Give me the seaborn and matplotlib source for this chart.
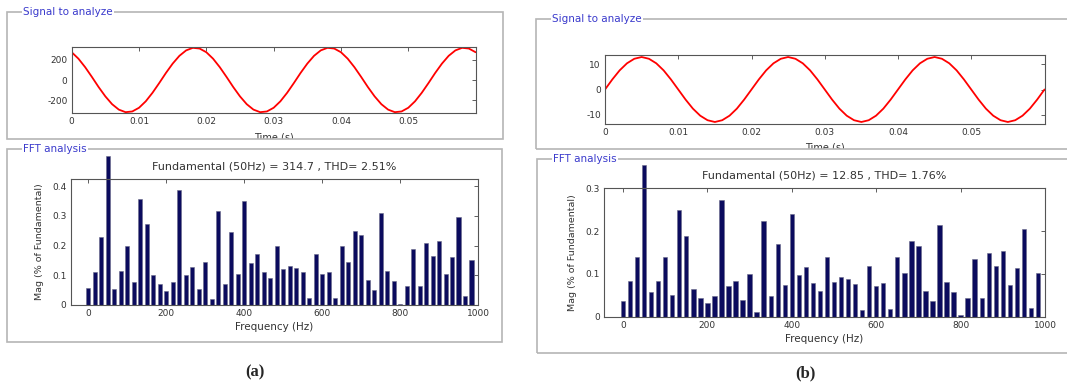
import matplotlib
matplotlib.use('Agg')
import matplotlib.pyplot as plt
from matplotlib.patches import Rectangle
import numpy as np
import seaborn as sns

# signal samples, 1 ms apart over the 0.06 s window
time_s = np.arange(61) * 0.001
signal_a = [271, 208, 125, 30, -69, -160, -236, -289, -314, -307,
            -271, -208, -125, -30, 69, 160, 236, 289, 314, 307,
            271, 208, 125, 30, -69, -160, -236, -289, -314, -307,
            -271, -208, -125, -30, 69, 160, 236, 289, 314, 307,
            271, 208, 125, 30, -69, -160, -236, -289, -314, -307,
            -271, -208, -125, -30, 69, 160, 236, 289, 314, 307, 271]
signal_b = [0, 4.0, 7.6, 10.4, 12.2, 12.9, 12.2, 10.4, 7.6, 4.0,
            0, -4.0, -7.6, -10.4, -12.2, -12.9, -12.2, -10.4, -7.6, -4.0,
            0, 4.0, 7.6, 10.4, 12.2, 12.9, 12.2, 10.4, 7.6, 4.0,
            0, -4.0, -7.6, -10.4, -12.2, -12.9, -12.2, -10.4, -7.6, -4.0,
            0, 4.0, 7.6, 10.4, 12.2, 12.9, 12.2, 10.4, 7.6, 4.0,
            0, -4.0, -7.6, -10.4, -12.2, -12.9, -12.2, -10.4, -7.6, -4.0, 0]

# FFT bins (1/0.06 s resolution) and magnitudes in % of fundamental
freq_hz = np.arange(60) * 1000 / 60
mag_a = [0.058, 0.112, 0.23, 0.50, 0.053, 0.115, 0.199, 0.076, 0.356, 0.273,
         0.101, 0.069, 0.047, 0.076, 0.388, 0.101, 0.127, 0.054, 0.144, 0.019,
         0.318, 0.072, 0.247, 0.106, 0.35, 0.143, 0.172, 0.111, 0.09, 0.2,
         0.12, 0.13, 0.125, 0.11, 0.025, 0.17, 0.105, 0.11, 0.025, 0.2,
         0.145, 0.25, 0.235, 0.085, 0.05, 0.31, 0.115, 0.08, 0.005, 0.065,
         0.19, 0.065, 0.21, 0.165, 0.215, 0.105, 0.16, 0.295, 0.03, 0.15]
mag_b = [0.037, 0.084, 0.14, 0.354, 0.057, 0.084, 0.139, 0.051, 0.249, 0.188,
         0.065, 0.043, 0.033, 0.049, 0.272, 0.072, 0.083, 0.039, 0.1, 0.012,
         0.223, 0.049, 0.171, 0.074, 0.241, 0.097, 0.115, 0.078, 0.06, 0.14,
         0.082, 0.093, 0.088, 0.076, 0.016, 0.119, 0.072, 0.079, 0.018, 0.139,
         0.103, 0.177, 0.166, 0.061, 0.037, 0.214, 0.082, 0.057, 0.005, 0.043,
         0.134, 0.044, 0.148, 0.118, 0.153, 0.074, 0.114, 0.205, 0.021, 0.103]

title_a = 'Fundamental (50Hz) = 314.7 , THD= 2.51%'
title_b = 'Fundamental (50Hz) = 12.85 , THD= 1.76%'
time_ticks = [0, 0.01, 0.02, 0.03, 0.04, 0.05]
time_labels = ['0', '0.01', '0.02', '0.03', '0.04', '0.05']
freq_ticks = [0, 200, 400, 600, 800, 1000]

sns.set_style('white')
plt.rcParams['font.family'] = ['DejaVu Sans']
plt.rcParams['axes.unicode_minus'] = False

W, H = 1067, 387
fig = plt.figure(figsize=(W / 100, H / 100), dpi=100)


def px_box(x0, y0, x1, y1):
    return [x0 / W, 1 - y1 / H, (x1 - x0) / W, (y1 - y0) / H]


def style_axes(ax):
    ax.tick_params(direction='in', length=3, width=0.6, top=True, right=True,
                   labelsize=6.5, labelcolor='#333333', color='#444444', pad=3)
    for s in ax.spines.values():
        s.set_color('#555555')
        s.set_linewidth(0.8)


def frame(x0, y0, x1, y1, label):
    fig.add_artist(Rectangle((x0 / W, 1 - y1 / H), (x1 - x0) / W, (y1 - y0) / H,
                             transform=fig.transFigure, fill=False,
                             ec='#b5b5b5', lw=1.2, zorder=6))
    fig.text((x0 + 16) / W, 1 - y0 / H, label, color='#3a3acc', fontsize=7.5,
             ha='left', va='center', zorder=7,
             bbox=dict(fc='white', ec='none', pad=1))


def signal_panel(box, values, ylim, yticks):
    ax = fig.add_axes(px_box(*box))
    sns.lineplot(x=time_s, y=values, ax=ax, color='red', lw=1.3)
    ax.set_xlim(0, 0.06)
    ax.set_ylim(*ylim)
    ax.set_xticks(time_ticks)
    ax.set_xticklabels(time_labels)
    ax.set_yticks(yticks)
    ax.set_xlabel('Time (s)', fontsize=7, color='#333333', labelpad=4)
    style_axes(ax)
    return ax


def fft_panel(box, mags, ymax, yticks, title):
    ax = fig.add_axes(px_box(*box))
    sns.barplot(x=freq_hz, y=mags, ax=ax, native_scale=True, width=0.62,
                color='#0b0b5e', saturation=1, errorbar=None,
                edgecolor='#6a6a8a', linewidth=0.4)
    for p in ax.patches:
        p.set_clip_on(False)
    ax.set_xlim(-45, 1000)
    ax.set_ylim(0, ymax)
    ax.set_xticks(freq_ticks)
    ax.set_xticklabels([str(v) for v in freq_ticks])
    ax.set_yticks(yticks)
    ax.set_yticklabels(['0'] + [f'{v:g}' for v in yticks[1:]])
    ax.set_xlabel('Frequency (Hz)', fontsize=7.5, color='#333333', labelpad=3)
    ax.set_ylabel('Mag (% of Fundamental)', fontsize=6.8, color='#333333', labelpad=6)
    ax.set_title(title, fontsize=8, color='#333333', pad=7)
    style_axes(ax)
    return ax


# panel (a)
signal_panel((71.7, 46.7, 475.6, 113.3), signal_a, (-325, 325), [-200, 0, 200])
fft_panel((70.7, 179, 478, 305), mag_a, 0.424, [0, 0.1, 0.2, 0.3, 0.4], title_a)

# panel (b)
signal_panel((605, 55, 1044.5, 124), signal_b, (-13.7, 13.7), [-10, 0, 10])
fft_panel((604, 188.3, 1045, 316.7), mag_b, 0.3, [0, 0.1, 0.2, 0.3], title_b)

# white bands that cut the "Time (s)" labels at the frame edge
fig.add_artist(Rectangle((0, 1 - 148.5 / H), 530 / W, 10 / H,
                         transform=fig.transFigure, fc='white', ec='none', zorder=5))
fig.add_artist(Rectangle((530 / W, 1 - 158.5 / H), 537 / W, 10 / H,
                         transform=fig.transFigure, fc='white', ec='none', zorder=5))

frame(7, 12, 503, 138.5, 'Signal to analyze')
frame(7, 149, 502, 342, 'FFT analysis')
frame(536, 19, 1075, 148.5, 'Signal to analyze')
frame(537, 159, 1075, 353, 'FFT analysis')

fig.text(255 / W, 1 - 372 / H, '(a)', family='Liberation Serif', weight='bold',
         fontsize=12, ha='center', va='center')
fig.text(805 / W, 1 - 373 / H, '(b)', family='Liberation Serif', weight='bold',
         fontsize=12, ha='center', va='center')

fig.savefig('out.png', dpi=100, facecolor='white')
plt.close(fig)
